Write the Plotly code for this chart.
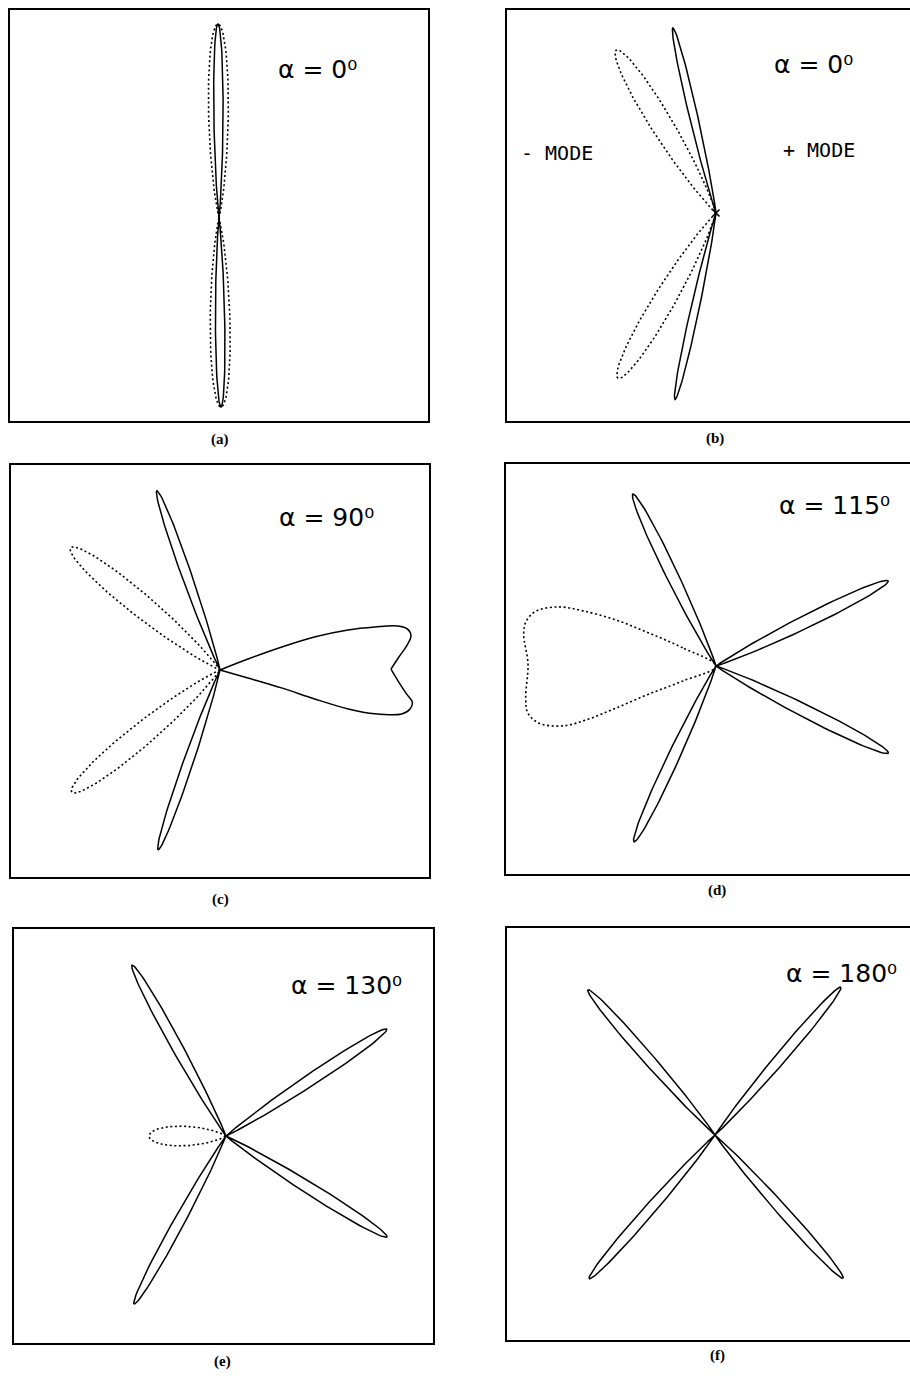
import numpy as np
import plotly.graph_objects as go

W, H = 910, 1378
PX = 100.0  # reference pixels per data unit (same on both axes)

# ---------------- data ----------------
# angles: degrees counter-clockwise from +x ; lengths & half-widths in data units
PANEL_TAGS = ["(a)", "(b)", "(c)", "(d)", "(e)", "(f)"]
ALPHA_DEG = ["0", "0", "90", "115", "130", "180"]

A_SOLID_DIR = [90.3, 270.6]
A_SOLID_LEN = [1.94, 1.89]
A_SOLID_W = [0.047, 0.047]
A_DOT_DIR = [90.3, 270.6]
A_DOT_LEN = [1.94, 1.89]
A_DOT_W = [0.10, 0.10]

B_SOLID_DIR = [103.1, 257.6]
B_SOLID_LEN = [1.90, 1.91]
B_SOLID_W = [0.042, 0.042]
B_DOT_DIR = [121.5, 239.3]
B_DOT_LEN = [1.91, 1.92]
B_DOT_W = [0.11, 0.11]

C_SOLID_DIR = [109.4, 251.0]
C_SOLID_LEN = [1.90, 1.90]
C_SOLID_W = [0.05, 0.05]
C_DOT_DIR = [140.7, 219.5]
C_DOT_LEN = [1.93, 1.92]
C_DOT_W = [0.115, 0.115]
# broad solid lobe of (c), traced as polar outline (upper half, lower half)
C_BIG_UP_ANG = [21.4, 20.4, 19.2, 17.4, 15.5, 13.9, 12.3, 10.1, 7.3, 4.0, 0.3]
C_BIG_UP_R = [0.30, 0.66, 1.01, 1.34, 1.61, 1.83, 1.92, 1.94, 1.88, 1.79, 1.71]
C_BIG_LO_ANG = [0.3, -3.8, -7.3, -9.5, -11.6, -13.6, -15.8, -16.9, -17.0, -16.2, -15.9]
C_BIG_LO_R = [1.71, 1.79, 1.88, 1.95, 1.94, 1.87, 1.61, 1.34, 0.99, 0.65, 0.29]

D_SOLID_DIR = [115.8, 245.0, 26.3, -26.8]
D_SOLID_LEN = [1.91, 1.94, 1.92, 1.93]
D_SOLID_W = [0.06, 0.06, 0.065, 0.065]
# broad dotted lobe of (d), polar outline
D_DOT_ANG = [151.4, 153.8, 155.3, 157.5, 159.4, 163.0, 166.7, 170.5, 179.4,
             189.6, 194.0, 197.9, 201.4, 202.6, 202.8, 202.7, 204.4]
D_DOT_R = [0.38, 0.75, 1.10, 1.44, 1.68, 1.88, 1.95, 1.95, 1.88,
           1.93, 1.94, 1.86, 1.64, 1.38, 1.09, 0.73, 0.36]

E_SOLID_DIR = [118.8, 241.3, 33.6, -32.1]
E_SOLID_LEN = [1.95, 1.915, 1.93, 1.90]
E_SOLID_W = [0.055, 0.055, 0.06, 0.06]
E_DOT_DIR = [180.0]
E_DOT_LEN = [0.77]
E_DOT_W = [0.10]

F_SOLID_DIR = [131.2, 49.6, 228.8, -48.2]
F_SOLID_LEN = [1.93, 1.94, 1.91, 1.92]
F_SOLID_W = [0.055, 0.055, 0.055, 0.055]

# ---------------- layout geometry (reference pixels) ----------------
# box: left, top, right, bottom ; centre of pattern: cx, cy
BOXES = [(10, 10, 428, 421), (507, 10, 910, 421),
         (11, 465, 429, 877), (506, 464, 910, 874),
         (14, 929, 433, 1343), (507, 928, 910, 1340)]
CENTERS = [(219, 218), (716, 213), (220, 670), (716, 666), (226, 1136), (715, 1135)]
OPEN_RIGHT = [False, True, False, True, False, True]
ALPHA_POS = [(276, 69), (772, 64), (277, 517), (777, 506), (289, 985), (784, 973)]
TAG_POS = [(220, 440), (715, 438), (220, 899), (717, 890), (222, 1361), (717, 1355)]


def lobe_xy(dirs, lens, widths):
    xs, ys = [], []
    for th, L, w in zip(dirs, lens, widths):
        n = (0.6065 * L / w) ** 2
        a = 4.0 / np.sqrt(n)
        phi = np.linspace(-a, a, 181)
        r = L * np.cos(phi) ** n
        ang = np.radians(th) + phi
        xs += [0.0] + list(r * np.cos(ang)) + [0.0, None]
        ys += [0.0] + list(r * np.sin(ang)) + [0.0, None]
    return xs, ys


def polar_xy(angs, rs):
    a = np.radians(np.asarray(angs, float))
    r = np.asarray(rs, float)
    return list(r * np.cos(a)), list(r * np.sin(a))


SOLID = dict(color="black", width=1.5)
DOTTED = dict(color="black", width=1.6, dash="2px,2.6px")

fig = go.Figure()


def add_line(i, xs, ys, style, shape="linear"):
    fig.add_trace(go.Scatter(x=xs, y=ys, mode="lines", line=dict(**style, shape=shape),
                             xaxis=f"x{i+1}", yaxis=f"y{i+1}", hoverinfo="skip",
                             showlegend=False, cliponaxis=False))


# (a)
add_line(0, *lobe_xy(A_DOT_DIR, A_DOT_LEN, A_DOT_W), DOTTED)
add_line(0, *lobe_xy(A_SOLID_DIR, A_SOLID_LEN, A_SOLID_W), SOLID)
# (b)
add_line(1, *lobe_xy(B_DOT_DIR, B_DOT_LEN, B_DOT_W), DOTTED)
add_line(1, *lobe_xy(B_SOLID_DIR, B_SOLID_LEN, B_SOLID_W), SOLID)
fig.add_trace(go.Scatter(x=[0], y=[0], mode="markers", xaxis="x2", yaxis="y2",
                         marker=dict(symbol="x-thin", size=7, line=dict(width=1.6, color="black")),
                         hoverinfo="skip", showlegend=False))
# (c)
add_line(2, *lobe_xy(C_DOT_DIR, C_DOT_LEN, C_DOT_W), DOTTED)
add_line(2, *lobe_xy(C_SOLID_DIR, C_SOLID_LEN, C_SOLID_W), SOLID)
ux, uy = polar_xy([0] + C_BIG_UP_ANG, [0] + C_BIG_UP_R)
lx, ly = polar_xy(C_BIG_LO_ANG + [0], C_BIG_LO_R + [0])
add_line(2, ux, uy, SOLID, "spline")
add_line(2, lx, ly, SOLID, "spline")
# (d)
dx, dy = polar_xy([0] + D_DOT_ANG + [0], [0] + D_DOT_R + [0])
add_line(3, dx, dy, DOTTED, "spline")
add_line(3, *lobe_xy(D_SOLID_DIR, D_SOLID_LEN, D_SOLID_W), SOLID)
# (e)
add_line(4, *lobe_xy(E_DOT_DIR, E_DOT_LEN, E_DOT_W), DOTTED)
add_line(4, *lobe_xy(E_SOLID_DIR, E_SOLID_LEN, E_SOLID_W), SOLID)
# (f)
add_line(5, *lobe_xy(F_SOLID_DIR, F_SOLID_LEN, F_SOLID_W), SOLID)

layout = dict(width=W, height=H, margin=dict(l=0, r=0, t=0, b=0),
              paper_bgcolor="white", plot_bgcolor="white", showlegend=False)
ann = []
for i in range(6):
    l, t, r, b = BOXES[i]
    cx, cy = CENTERS[i]
    common = dict(showticklabels=False, ticks="", showgrid=False, zeroline=False,
                  showline=True, linecolor="black", linewidth=1.6, fixedrange=True)
    layout[f"xaxis{i+1}"] = dict(domain=[l / W, r / W], range=[(l - cx) / PX, (r - cx) / PX],
                                 anchor=f"y{i+1}", mirror=True, **common)
    layout[f"yaxis{i+1}"] = dict(domain=[1 - b / H, 1 - t / H], range=[(cy - b) / PX, (cy - t) / PX],
                                 anchor=f"x{i+1}", mirror=not OPEN_RIGHT[i], **common)
    ax, ay = ALPHA_POS[i]
    ann.append(dict(text=f"α = {ALPHA_DEG[i]}⁰", x=ax / W, y=1 - ay / H,
                    xref="paper", yref="paper", xanchor="left", yanchor="middle",
                    showarrow=False,
                    font=dict(family="DejaVu Sans", size=25, color="black")))
    tx, ty = TAG_POS[i]
    ann.append(dict(text=PANEL_TAGS[i], x=tx / W, y=1 - ty / H, xref="paper",
                    yref="paper", xanchor="center", yanchor="middle", showarrow=False,
                    font=dict(family="Liberation Serif", size=15, color="black", weight="bold")))

ann.append(dict(text="- MODE", x=557 / W, y=1 - 153 / H, xref="paper", yref="paper",
                xanchor="center", yanchor="middle", showarrow=False,
                font=dict(family="DejaVu Sans Mono", size=20, color="black")))
ann.append(dict(text="+ MODE", x=819 / W, y=1 - 150 / H, xref="paper", yref="paper",
                xanchor="center", yanchor="middle", showarrow=False,
                font=dict(family="DejaVu Sans Mono", size=20, color="black")))
layout["annotations"] = ann
fig.update_layout(**layout)
fig.write_html("out.html", config={"displayModeBar": False},
               post_script="document.body.style.margin='0';document.body.style.overflow='hidden';")
